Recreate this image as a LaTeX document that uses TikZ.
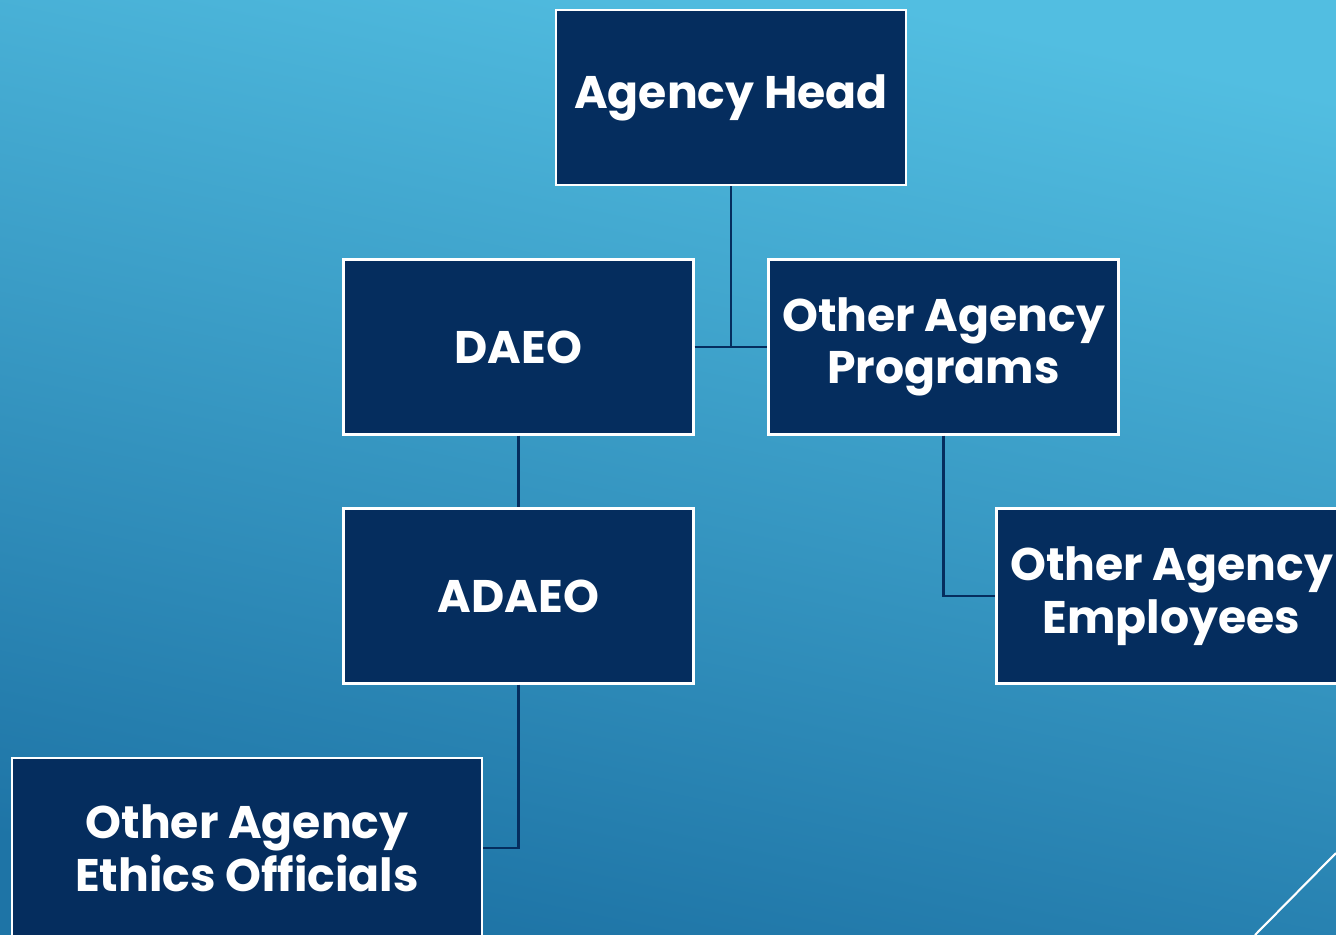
\documentclass[tikz,border=0pt]{standalone}
\usepackage{fontspec}
\setmainfont{Poppins}
\usepackage{tikz}
\usetikzlibrary{positioning}
\definecolor{boxnavy}{RGB}{5,45,94}
\definecolor{bgtop}{RGB}{82,190,225}
\definecolor{bgbottom}{RGB}{30,116,166}
\tikzset{
  orgbox/.style={shape=rectangle,draw=white,line width=1.2pt,fill=boxnavy,text=white,
    font=\fontsize{26}{30}\selectfont\bfseries,align=center,minimum height=3.5cm,minimum width=7.0cm},
  orglink/.style={draw=boxnavy,line width=1.4pt}
}

\begin{document}
\begin{tikzpicture}

\useasboundingbox (0,0) rectangle (26.72,-18.7);
\clip (0,0) rectangle (26.72,-18.7);
\shade[top color=bgtop,bottom color=bgbottom,shading angle=-12] (0,0) rectangle (26.72,-18.7);

\path (14.62,-1.95) node [orgbox] (head){Agency Head};

\path (10.37,-6.94) node [orgbox] (daeo){DAEO};

\path (18.87,-6.94) node [orgbox] (programs){Other Agency\\Programs};

\path (10.37,-11.92) node [orgbox] (adaeo){ADAEO};

\path (23.43,-11.92) node [orgbox] (employees){Other Agency\\Employees};

\path (4.94,-16.96) node [orgbox,minimum width=9.4cm,minimum height=3.6cm] (ethics){Other Agency\\Ethics Officials};

\coordinate (hub) at (head.south |- daeo.east);
\draw [orglink] (head.south) -- (hub);
\draw [orglink] (daeo.east) -- (programs.west);
\draw [orglink] (daeo.south) -- (adaeo.north);
\draw [orglink] (adaeo.south) |- (ethics.east);
\draw [orglink] (programs.south) |- (employees.west);

\draw [white,line width=1.2pt] (25.1,-18.7) -- (26.72,-17.06);

\end{tikzpicture}
\end{document}
